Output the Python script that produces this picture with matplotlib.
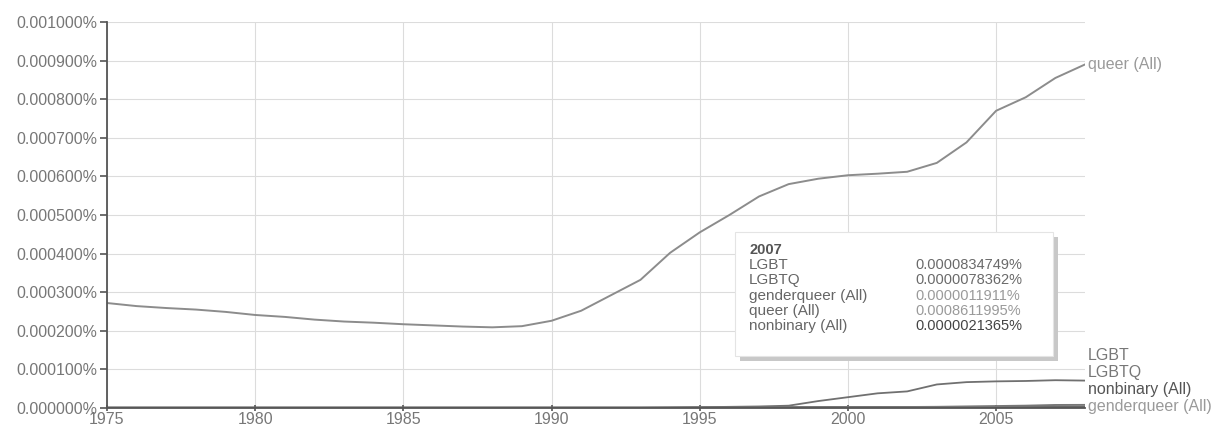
import matplotlib
matplotlib.use("Agg")
import matplotlib.pyplot as plt
from matplotlib.patches import Rectangle

plt.rcParams["font.family"] = ["Liberation Sans", "DejaVu Sans"]

# ── data (percent of all words)
years = list(range(1975, 2009))
queer = [0.000272, 0.000264, 0.000259, 0.000255, 0.000249, 0.000241, 0.000236,
         0.000229, 0.000224, 0.000221, 0.000217, 0.000214, 0.000211, 0.000209,
         0.000212, 0.000226, 0.000252, 0.000292, 0.000332, 0.000402, 0.000455,
         0.000500, 0.000548, 0.000580, 0.000594, 0.000603, 0.000607, 0.000612,
         0.000635, 0.000688, 0.000770, 0.000805, 0.000855, 0.000890]
lgbt = [0.0000005] * 19 + [0.000001, 0.000002, 0.000003, 0.000004, 0.000006,
                           0.000018, 0.000028, 0.000038, 0.000043, 0.000061,
                           0.000067, 0.000069, 0.000070, 0.000072, 0.000071]
lgbtq = [0.0] * 22 + [0.0000003, 0.0000005, 0.000001, 0.0000015, 0.000002,
                      0.0000025, 0.000003, 0.000004, 0.000005, 0.000006,
                      0.0000078, 0.000008]
nonbinary = [0.000001] * 19 + [0.0000012, 0.0000014, 0.0000015, 0.0000016,
                               0.0000017, 0.0000018, 0.0000019, 0.000002,
                               0.000002, 0.000002, 0.000002, 0.0000021,
                               0.0000021, 0.0000021, 0.0000022]
genderqueer = [0.0] * 22 + [0.0000002, 0.0000004, 0.0000006, 0.0000008,
                            0.0000009, 0.000001, 0.000001, 0.0000011,
                            0.0000012, 0.0000012, 0.0000012, 0.0000012]

tip_year = "2007"
tip_names = ["LGBT", "LGBTQ", "genderqueer (All)", "queer (All)", "nonbinary (All)"]
tip_values = ["0.0000834749%", "0.0000078362%", "0.0000011911%",
              "0.0008611995%", "0.0000021365%"]
tip_colors = ["#6a6a6a", "#6a6a6a", "#9a9a9a", "#9a9a9a", "#444444"]

yticks = [i * 0.0001 for i in range(11)]
xticks = [1975, 1980, 1985, 1990, 1995, 2000, 2005]

fig = plt.figure(figsize=(12.27, 4.32), dpi=100)
fig.patch.set_facecolor("white")
ax = fig.add_axes([107 / 1227, 1 - 408 / 432, (1085 - 107) / 1227, (408 - 22) / 432])

ax.plot(years, queer, color="#8c8c8c", lw=1.4)
ax.plot(years, genderqueer, color="#555555", lw=1.6)
ax.plot(years, nonbinary, color="#666666", lw=1.6)
ax.plot(years, lgbtq, color="#777777", lw=1.4)
ax.plot(years, lgbt, color="#707070", lw=1.3)

ax.set_xlim(1975, 2008)
ax.set_ylim(0, 0.001)
ax.set_xticks(xticks)
ax.set_yticks(yticks)
ax.set_yticklabels([f"{v:.6f}%" for v in yticks])
ax.grid(True, color="#dcdcdc", lw=0.8)
ax.set_axisbelow(True)
for s in ["top", "right"]:
    ax.spines[s].set_visible(False)
for s in ["left", "bottom"]:
    ax.spines[s].set_color("#555555")
    ax.spines[s].set_linewidth(1.3)
ax.tick_params(axis="y", colors="#555555", labelcolor="#777777", labelsize=11.5,
               length=5, width=1.2, pad=2)
ax.tick_params(axis="x", colors="#555555", labelcolor="#777777", labelsize=11.5,
               length=4, width=1.2, pad=1, direction="inout")

# right-hand series labels
lab = dict(transform=ax.get_yaxis_transform(), fontsize=11.5, va="center",
           ha="left", clip_on=False)
ax.text(1.003, queer[-1], "queer (All)", color="#9a9a9a", **lab)
ax.text(1.003, 0.000135, "LGBT", color="#777777", **lab)
ax.text(1.003, 0.000091, "LGBTQ", color="#777777", **lab)
ax.text(1.003, 0.000047, "nonbinary (All)", color="#555555", **lab)
ax.text(1.003, 0.000005, "genderqueer (All)", color="#9a9a9a", **lab)

# tooltip box with shadow
bx0, by0, bw, bh = 735 / 1227, 1 - 356 / 432, 318 / 1227, 124 / 432
fig.patches.append(Rectangle((bx0 + 0.004, by0 - 0.012), bw, bh,
                             transform=fig.transFigure, facecolor="#c8c8c8",
                             edgecolor="none", zorder=5))
fig.patches.append(Rectangle((bx0, by0), bw, bh, transform=fig.transFigure,
                             facecolor="white", edgecolor="#e4e4e4", lw=0.8,
                             zorder=6))
tx, vx = 749 / 1227, 915 / 1227
fig.text(tx, 1 - 250 / 432, tip_year, fontsize=10.5, fontweight="bold",
         color="#555555", va="center", zorder=7)
for i, (n, v, c) in enumerate(zip(tip_names, tip_values, tip_colors)):
    yy = 1 - (265 + i * 15.3) / 432
    fig.text(tx, yy, n, fontsize=11, color="#666666", va="center", zorder=7)
    fig.text(vx, yy, v, fontsize=10.5, color=c, va="center", zorder=7)

fig.savefig("out.png", dpi=100, facecolor="white")
